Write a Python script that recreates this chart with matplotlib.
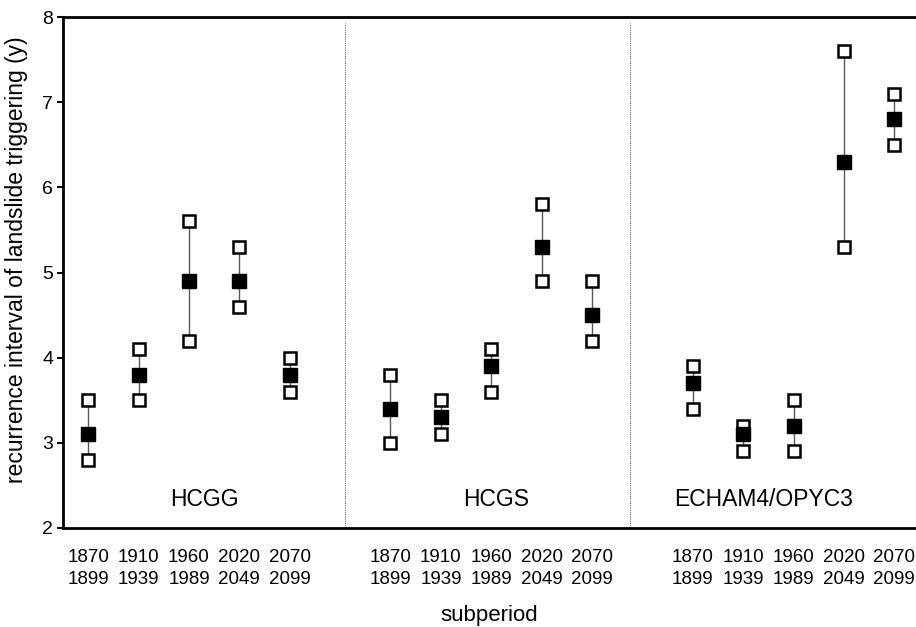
import numpy as np
import matplotlib.pyplot as plt

plt.rcParams['font.family'] = ['Liberation Sans', 'DejaVu Sans']

# Daten: Mittelwert und Grenzen je Teilperiode
models = ['HCGG', 'HCGS', 'ECHAM4/OPYC3']
periods = ['1870\n1899', '1910\n1939', '1960\n1989', '2020\n2049', '2070\n2099']

hcgg_mean = [3.1, 3.8, 4.9, 4.9, 3.8]
hcgg_low = [2.8, 3.5, 4.2, 4.6, 3.6]
hcgg_high = [3.5, 4.1, 5.6, 5.3, 4.0]

hcgs_mean = [3.4, 3.3, 3.9, 5.3, 4.5]
hcgs_low = [3.0, 3.1, 3.6, 4.9, 4.2]
hcgs_high = [3.8, 3.5, 4.1, 5.8, 4.9]

echam_mean = [3.7, 3.1, 3.2, 6.3, 6.8]
echam_low = [3.4, 2.9, 2.9, 5.3, 6.5]
echam_high = [3.9, 3.2, 3.5, 7.6, 7.1]

groups = [
    (hcgg_mean, hcgg_low, hcgg_high),
    (hcgs_mean, hcgs_low, hcgs_high),
    (echam_mean, echam_low, echam_high),
]

fig = plt.figure(figsize=(9.16, 6.27), dpi=100)
ax = fig.add_axes([63 / 916, 1 - 528 / 627, (916 - 63) / 916, (528 - 17) / 627])

label_pos = [2.3, 8.1, 13.4]
xticks = []
for g, (mean, low, high) in enumerate(groups):
    x = np.arange(5) + 6 * g
    xticks.extend(x)
    ax.vlines(x, low, high, color='0.35', lw=1, zorder=1)
    ax.plot(x, low, 's', ms=8.5, mfc='white', mec='black', mew=1.8, ls='none', zorder=2)
    ax.plot(x, high, 's', ms=8.5, mfc='white', mec='black', mew=1.8, ls='none', zorder=2)
    ax.plot(x, mean, 's', ms=10, mfc='black', mec='black', ls='none', zorder=3)
    ax.text(label_pos[g], 2.33, models[g], ha='center', va='center', fontsize=16.5)

# Trennlinien
for xs in [5.1, 10.75]:
    ax.plot([xs, xs], [2, 7.93], color='0.4', lw=0.8, ls=(0, (1, 1)), zorder=0)

ax.set_xlim(-0.5, 16.43)
ax.set_ylim(2, 8)
ax.set_yticks([2, 3, 4, 5, 6, 7, 8])
ax.set_xticks(xticks)
ax.set_xticklabels(periods * 3, fontsize=13.5, linespacing=1.4)
ax.tick_params(axis='x', length=0, pad=15)
ax.tick_params(axis='y', length=4, width=1.5, labelsize=14, pad=3)

for s in ['left', 'bottom', 'top']:
    ax.spines[s].set_linewidth(2)
ax.spines['right'].set_visible(False)

ax.set_ylabel('recurrence interval of landslide triggering (y)', fontsize=16.5)
ax.yaxis.set_label_coords(-0.041, 0.525)
ax.set_xlabel('subperiod', fontsize=16, labelpad=12)

plt.savefig('out.png', dpi=100)
